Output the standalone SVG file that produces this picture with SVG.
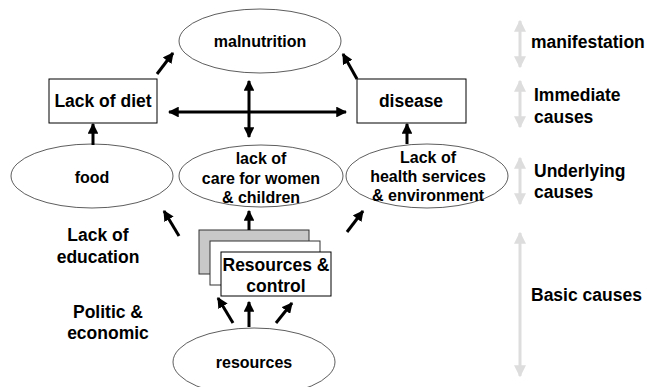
<svg xmlns="http://www.w3.org/2000/svg" width="648" height="387" viewBox="0 0 648 387">
<style>
text{font-family:"Liberation Sans",Arial,sans-serif;font-weight:bold;fill:#000;text-anchor:middle}
.e{font-size:16px}
.r{font-size:17.5px}
.l{font-size:17.5px;text-anchor:start}
.node{fill:#fff;stroke:#333;stroke-width:0.8}
.box{fill:#fff;stroke:#000;stroke-width:1}
.a{stroke:#000;stroke-width:3;fill:none;marker-end:url(#ah)}
.ad{stroke:#000;stroke-width:3;fill:none;marker-end:url(#ah);marker-start:url(#ahs)}
.g{stroke:#ddd;stroke-width:3;fill:none;marker-end:url(#gh);marker-start:url(#ghs)}
</style>
<defs>
<marker id="ah" viewBox="0 0 10 10" refX="9" refY="5" markerWidth="3.6" markerHeight="3.6" orient="auto" markerUnits="strokeWidth"><path d="M0,0 L10,5 L0,10 z" fill="#000"/></marker>
<marker id="ahs" viewBox="0 0 10 10" refX="1" refY="5" markerWidth="3.6" markerHeight="3.6" orient="auto" markerUnits="strokeWidth"><path d="M10,0 L0,5 L10,10 z" fill="#000"/></marker>
<marker id="gh" viewBox="0 0 10 10" refX="9" refY="5" markerWidth="4" markerHeight="4" orient="auto" markerUnits="strokeWidth"><path d="M0,0 L10,5 L0,10 z" fill="#ddd"/></marker>
<marker id="ghs" viewBox="0 0 10 10" refX="1" refY="5" markerWidth="4" markerHeight="4" orient="auto" markerUnits="strokeWidth"><path d="M10,0 L0,5 L10,10 z" fill="#ddd"/></marker>
</defs>
<rect width="648" height="387" fill="#fff"/>

<g id="malnutrition"><ellipse class="node" cx="260" cy="41" rx="81" ry="32"/><text class="e" x="260" y="47">malnutrition</text></g>
<g id="lack-of-diet"><rect class="box" x="49" y="79" width="108" height="44"/><text class="r" x="103" y="107">Lack of diet</text></g>
<g id="disease"><rect class="box" x="357" y="79" width="109" height="44"/><text class="r" x="411" y="107">disease</text></g>
<g id="food"><ellipse class="node" cx="92" cy="176" rx="81" ry="32"/><text class="e" x="92" y="183">food</text></g>
<g id="care"><ellipse class="node" cx="261" cy="176" rx="82" ry="31"/><text class="e" x="261" y="164">lack of</text><text class="e" x="261" y="184">care for women</text><text class="e" x="261" y="203">&amp; children</text></g>
<g id="health"><ellipse class="node" cx="427" cy="176" rx="81" ry="32"/><text class="e" x="428" y="163">Lack of</text><text class="e" x="428" y="182">health services</text><text class="e" x="428" y="201">&amp; environment</text></g>
<g id="resources-control">
<rect x="199" y="230" width="110" height="44" fill="#c8c8c8" stroke="#333" stroke-width="1"/>
<rect x="210" y="241" width="110" height="44" fill="#fff" stroke="#333" stroke-width="1"/>
<rect class="box" x="221" y="252" width="110" height="44"/>
<text class="r" x="276" y="271">Resources &amp;</text><text class="r" x="276" y="292">control</text>
</g>
<g id="resources"><ellipse class="node" cx="254" cy="362" rx="81" ry="34"/><text class="e" x="254" y="368">resources</text></g>

<g id="labels">
<text class="r" x="98" y="241">Lack of</text><text class="r" x="98" y="263">education</text>
<text class="r" x="108" y="318">Politic &amp;</text><text class="r" x="108" y="339">economic</text>
<text class="l" x="531" y="48">manifestation</text>
<text class="l" x="534" y="101">Immediate</text><text class="l" x="534" y="123">causes</text>
<text class="l" x="534" y="177">Underlying</text><text class="l" x="534" y="198">causes</text>
<text class="l" x="531" y="301">Basic causes</text>
</g>

<g id="connectors">
<line class="a" x1="93" y1="145" x2="93" y2="124"/>
<line class="a" x1="407" y1="144" x2="407" y2="124"/>
<line class="a" x1="157" y1="74" x2="173" y2="53"/>
<line class="a" x1="357" y1="79" x2="343" y2="54"/>
<line class="ad" x1="169" y1="112" x2="346" y2="112"/>
<line class="ad" x1="249" y1="81" x2="249" y2="137"/>
<line class="a" x1="249" y1="230" x2="249" y2="211"/>
<line class="a" x1="179" y1="236" x2="164" y2="211"/>
<line class="a" x1="347" y1="232" x2="363" y2="211"/>
<line class="a" x1="233" y1="323" x2="218" y2="298"/>
<line class="a" x1="249" y1="327" x2="249" y2="302"/>
<line class="a" x1="276" y1="323" x2="292" y2="303"/>
<line class="g" x1="520" y1="21" x2="520" y2="67"/>
<line class="g" x1="520" y1="81" x2="520" y2="127"/>
<line class="g" x1="520" y1="158" x2="520" y2="204"/>
<line class="g" x1="520" y1="233" x2="520" y2="376"/>
</g>
</svg>
